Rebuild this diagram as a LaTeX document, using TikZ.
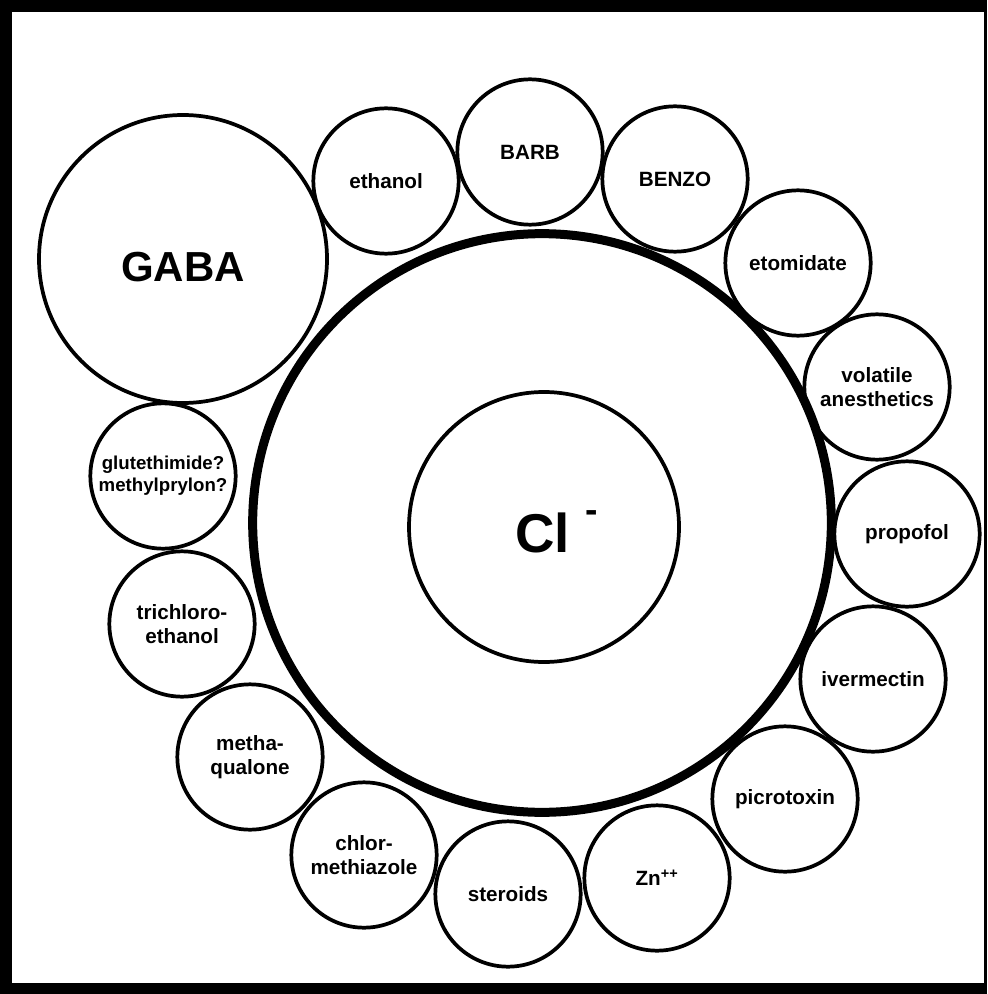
\documentclass[tikz,border=0pt]{standalone}
\usepackage{fontspec}
\setmainfont{Liberation Sans}
\begin{document}
\begin{tikzpicture}[x=0.75pt,y=-0.75pt,
  lbl/.style={font=\bfseries\fontsize{15.5}{18.5}\selectfont, align=center},
  ring/.style={circle, draw, line width=2.8pt, minimum size=109pt, inner sep=0pt, lbl},
]
\fill[black] (0,0) rectangle (987,994);
\fill[white] (12,12) rectangle (984,983);
\useasboundingbox (0,0) rectangle (987,994);
% channel and pore
\node[circle, draw, line width=6.75pt, minimum size=434pt, inner sep=0pt] (channel) at (542,523) {};
\node[circle, draw, line width=2.8pt, minimum size=202.5pt, inner sep=0pt] (pore) at (544,527) {};
\node[anchor=base west, inner sep=0pt, font=\bfseries\fontsize{41}{41}\selectfont] (cl) at (515,552)
  {Cl\kern 12pt\raisebox{22pt}{\fontsize{28}{28}\selectfont -}};
% GABA
\node[ring, minimum size=216pt] (gaba) at (183,259) {};
\node[inner sep=0pt, font=\bfseries\fontsize{31.5}{36}\selectfont] (gabatext) at (183,267) {GABA};
% modulator sites
\node[ring] (ethanol) at (386,181) {ethanol};
\node[ring] (barb) at (530,152) {BARB};
\node[ring] (benzo) at (675,179) {BENZO};
\node[ring] (etomidate) at (798,263) {etomidate};
\node[ring] (volatile) at (877,387) {volatile\\anesthetics};
\node[ring] (propofol) at (907,534) {propofol};
\node[ring] (ivermectin) at (873,679) {ivermectin};
\node[ring] (picrotoxin) at (785,799) {picrotoxin};
\node[ring] (zinc) at (657,878) {Zn\textsuperscript{++}};
\node[ring] (steroids) at (508,894) {steroids};
\node[ring] (chlor) at (364,855) {chlor-\\methiazole};
\node[ring] (methaq) at (250,757) {metha-\\qualone};
\node[ring] (trichloro) at (182,624) {trichloro-\\ethanol};
\node[ring, font=\bfseries\fontsize{14}{16.5}\selectfont] (gluteth) at (163,476) {glutethimide?\\methylprylon?};
\end{tikzpicture}
\end{document}
